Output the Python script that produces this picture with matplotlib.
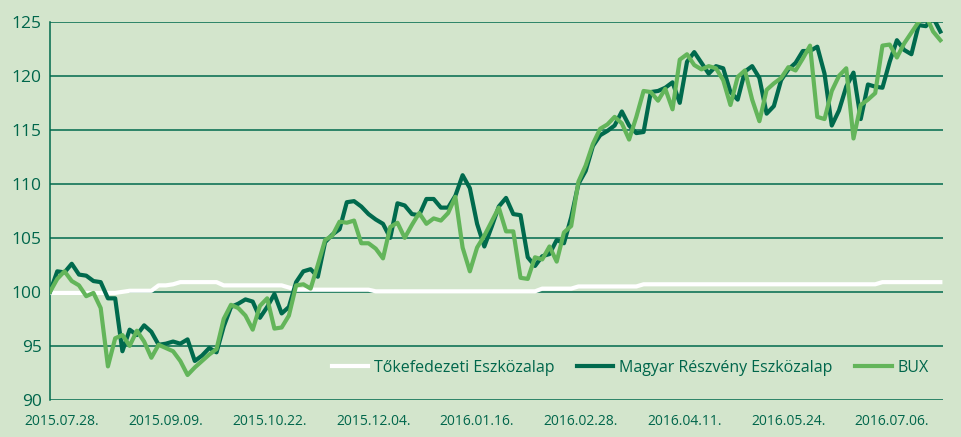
import numpy as np
import pandas as pd
import matplotlib
matplotlib.use("Agg")
import matplotlib.pyplot as plt
import matplotlib.dates as mdates

plt.rcParams["font.family"] = ["Open Sans", "DejaVu Sans"]

# adatok: 3 naponkénti leolvasás
start_date = "2015-07-23"
n_points = 124

tokefedezeti = [
    99.9, 99.9, 99.9, 99.9, 99.9, 99.9, 99.9, 99.9, 99.9, 99.9,
    100.0, 100.1, 100.1, 100.1, 100.1, 100.6, 100.6, 100.7, 100.9, 100.9,
    100.9, 100.9, 100.9, 100.9, 100.6, 100.6, 100.6, 100.6, 100.6, 100.6,
    100.6, 100.6, 100.6, 100.4, 100.2, 100.2, 100.2, 100.2, 100.2, 100.2,
    100.2, 100.2, 100.2, 100.2, 100.2, 100.05, 100.05, 100.05, 100.05, 100.05,
    100.05, 100.05, 100.05, 100.05, 100.05, 100.05, 100.05, 100.05, 100.05, 100.05,
    100.05, 100.05, 100.05, 100.05, 100.05, 100.05, 100.05, 100.05, 100.3, 100.3,
    100.3, 100.3, 100.3, 100.5, 100.5, 100.5, 100.5, 100.5, 100.5, 100.5,
    100.5, 100.5, 100.7, 100.7, 100.7, 100.7, 100.7, 100.7, 100.7, 100.7,
    100.7, 100.7, 100.7, 100.7, 100.7, 100.7, 100.7, 100.7, 100.7, 100.7,
    100.7, 100.7, 100.7, 100.7, 100.7, 100.7, 100.7, 100.7, 100.7, 100.7,
    100.7, 100.7, 100.7, 100.7, 100.7, 100.9, 100.9, 100.9, 100.9, 100.9,
    100.9, 100.9, 100.9, 100.9,
]

magyar = [
    100.0, 101.9, 101.8, 102.6, 101.6, 101.5, 101.0, 100.9, 99.4, 99.4,
    94.5, 96.5, 96.0, 96.9, 96.3, 95.1, 95.2, 95.4, 95.2, 95.6,
    93.6, 94.1, 94.8, 94.4, 96.8, 98.6, 98.9, 99.3, 99.1, 97.6,
    98.6, 99.8, 98.0, 98.6, 100.9, 101.9, 102.1, 101.4, 104.6, 105.3,
    105.8, 108.3, 108.4, 107.9, 107.2, 106.7, 106.3, 105.0, 108.2, 108.0,
    107.2, 107.1, 108.6, 108.6, 107.8, 107.8, 108.9, 110.8, 109.6, 106.3,
    104.2, 106.0, 107.9, 108.7, 107.2, 107.1, 103.2, 102.4, 103.3, 103.5,
    104.8, 104.5, 106.9, 110.0, 111.2, 113.5, 114.5, 114.9, 115.4, 116.7,
    115.4, 114.7, 114.8, 118.5, 118.6, 118.9, 119.4, 117.5, 121.3, 122.2,
    121.2, 120.2, 120.9, 120.7, 118.5, 117.8, 120.4, 120.9, 119.8, 116.5,
    117.2, 119.6, 120.6, 121.2, 122.3, 122.3, 122.7, 120.2, 115.4, 116.8,
    119.0, 120.3, 116.0, 119.2, 119.0, 118.9, 121.3, 123.3, 122.4, 122.0,
    124.7, 124.6, 125.4, 124.1,
]

bux = [
    100.0, 101.2, 101.9, 101.0, 100.6, 99.6, 99.9, 98.5, 93.1, 95.7,
    96.0, 95.0, 96.4, 95.4, 93.9, 95.1, 94.8, 94.5, 93.6, 92.3,
    93.0, 93.6, 94.2, 94.7, 97.5, 98.8, 98.5, 97.8, 96.5, 98.7,
    99.4, 96.6, 96.7, 97.8, 100.6, 100.7, 100.3, 102.5, 104.8, 105.2,
    106.5, 106.4, 106.6, 104.5, 104.5, 104.0, 103.1, 106.0, 106.4, 105.0,
    106.2, 107.3, 106.3, 106.8, 106.6, 107.3, 108.8, 104.1, 101.9, 104.1,
    105.2, 106.5, 107.8, 105.6, 105.6, 101.3, 101.2, 103.2, 103.0, 104.2,
    102.8, 105.5, 106.1, 110.2, 111.7, 113.7, 115.1, 115.5, 116.2, 115.6,
    114.1, 116.2, 118.6, 118.5, 117.7, 118.8, 116.9, 121.5, 122.0, 121.0,
    120.6, 120.9, 120.7, 119.6, 117.3, 119.9, 120.5, 117.8, 115.8, 118.7,
    119.3, 119.8, 120.8, 120.5, 121.6, 122.8, 116.2, 116.0, 118.6, 120.0,
    120.7, 114.2, 117.3, 117.8, 118.4, 122.8, 122.9, 121.7, 123.0, 124.0,
    125.0, 125.6, 124.1, 123.3,
]

tick_dates = ["2015-07-28", "2015-09-09", "2015-10-22", "2015-12-04", "2016-01-16",
              "2016-02-28", "2016-04-11", "2016-05-24", "2016-07-06"]
labels = ["Tőkefedezeti Eszközalap", "Magyar Részvény Eszközalap", "BUX"]

bg = "#d3e5cc"
dark = "#006a4d"
light = "#63b55a"
text_col = "#00664b"

dates = pd.date_range(start_date, periods=n_points, freq="3D")

fig = plt.figure(figsize=(9.62, 4.37), dpi=100, facecolor=bg)
ax = fig.add_axes([0.052, 0.085, 0.928, 0.865], facecolor=bg)

for v in range(90, 130, 5):
    ax.axhline(v, color=dark, lw=1.1, zorder=1)

ax.plot(dates, tokefedezeti, color="white", lw=3, label=labels[0], zorder=3)
ax.plot(dates, magyar, color=dark, lw=3, label=labels[1], zorder=4)
ax.plot(dates, bux, color=light, lw=3, label=labels[2], zorder=5)

ax.set_ylim(90, 125)
ax.set_xlim(dates[0], dates[-1] + pd.Timedelta(days=1))
ax.set_yticks(range(90, 130, 5))
ax.set_xticks(pd.to_datetime(tick_dates))
ax.xaxis.set_major_formatter(mdates.DateFormatter("%Y.%m.%d."))

for s in ["top", "right", "bottom"]:
    ax.spines[s].set_visible(False)
ax.spines["left"].set_color(dark)
ax.spines["left"].set_linewidth(1.1)

ax.tick_params(axis="both", length=0, colors=text_col)
ax.tick_params(axis="y", labelsize=12.5, pad=6)
ax.tick_params(axis="x", labelsize=10, pad=10)

leg = ax.legend(loc="lower right", bbox_to_anchor=(1.0, 0.025), ncol=3, frameon=False,
                fontsize=11.5, handlelength=2.3, handletextpad=0.35, columnspacing=1.4)
for t in leg.get_texts():
    t.set_color(text_col)

fig.savefig("out.png", dpi=100, facecolor=bg)
